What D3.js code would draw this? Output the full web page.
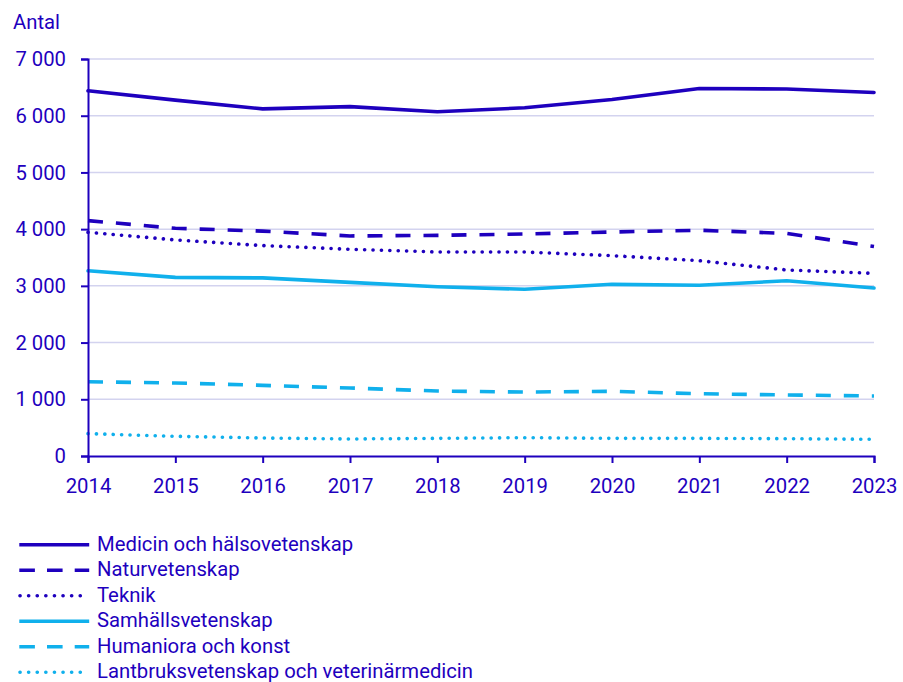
<!DOCTYPE html>
<html><head><meta charset="utf-8">
<script src="https://cdn.jsdelivr.net/npm/d3@7"></script>
<style>body{margin:0;background:#fff}svg{display:block}text{font-family:Roboto,"Noto Sans",sans-serif}</style>
</head><body><svg id="c" width="903" height="682"></svg>
<script>
const years = [2014,2015,2016,2017,2018,2019,2020,2021,2022,2023];
const yTicks = [0,1000,2000,3000,4000,5000,6000,7000];
const seriesNames = ["Medicin och hälsovetenskap","Naturvetenskap","Teknik","Samhällsvetenskap","Humaniora och konst","Lantbruksvetenskap och veterinärmedicin"];
const medicin = [6440,6275,6120,6160,6070,6140,6285,6480,6470,6410];
const naturvet = [4150,4015,3965,3880,3890,3915,3950,3980,3925,3695];
const teknik = [3945,3810,3710,3645,3597,3597,3532,3444,3280,3220];
const samhalls = [3265,3150,3140,3062,2985,2940,3027,3010,3090,2962];
const humaniora = [1310,1287,1246,1199,1146,1128,1140,1098,1076,1058];
const lantbruk = [394,347,317,300,311,323,311,311,305,294];
const values = [medicin,naturvet,teknik,samhalls,humaniora,lantbruk];

const dark = "#1E00BE", light = "#10B0EC";
const colors = [dark,dark,dark,light,light,light];
const dashes = [null,"15,13","0.1,8.3",null,"15,13","0.1,8.3"];
const caps = ["round","butt","round","round","butt","round"];
const FS = 20.3;

const svg = d3.select("#c");
const L=88,R=874,T=59,B=456;
const x = d3.scaleLinear().domain([2014,2023]).range([L,R]);
const y = d3.scaleLinear().domain([0,7000]).range([B,T]);
const fmt = v => d3.format(",")(v).replace(/,/g," ");

// gridlines
svg.append("g").selectAll("line").data(yTicks.filter(d=>d>0)).join("line")
  .attr("x1",L).attr("x2",R).attr("y1",d=>y(d)).attr("y2",d=>y(d))
  .attr("stroke","#d3d3ef").attr("stroke-width",1.5);

// lines
const line = d3.line().x((d,i)=>x(years[i])).y(d=>y(d));
values.forEach((vals,i)=>{
  svg.append("path").datum(vals).attr("d",line).attr("fill","none")
    .attr("stroke",colors[i]).attr("stroke-width",3.6)
    .attr("stroke-dasharray",dashes[i]).attr("stroke-linecap",caps[i])
    .attr("stroke-linejoin","round");
});

// axes
const ya = svg.append("g").attr("transform",`translate(${L},0)`)
  .call(d3.axisLeft(y).tickValues(yTicks).tickFormat(fmt).tickSize(7).tickPadding(15));
const xa = svg.append("g").attr("transform",`translate(0,${B})`)
  .call(d3.axisBottom(x).tickValues(years).tickFormat(d3.format("d")).tickSize(7).tickPadding(16));
[ya,xa].forEach(a=>{
  a.attr("font-size",FS).attr("font-family","Roboto");
  a.select(".domain").attr("stroke",dark).attr("stroke-width",2);
  a.selectAll(".tick line").attr("stroke",dark).attr("stroke-width",2);
  a.selectAll("text").attr("fill",dark).style("font-size",FS+"px");
});
ya.selectAll(".tick text").attr("dy","0.33em");

svg.append("text").attr("x",13).attr("y",29).attr("fill",dark)
  .style("font-size",FS+"px").text("Antal");

// legend
const lg = svg.append("g");
seriesNames.forEach((n,i)=>{
  const cy = 544.8 + i*25.5;
  const kind = i%3;
  lg.append("line")
    .attr("x1", kind===2 ? 20 : 19.3).attr("x2", kind===2 ? 88.2 : 89.2)
    .attr("y1",cy).attr("y2",cy)
    .attr("stroke",colors[i]).attr("stroke-width",3.6)
    .attr("stroke-dasharray", kind===1 ? "15.6,12.1" : kind===2 ? "0.1,8.5" : null)
    .attr("stroke-linecap", kind===2 ? "round" : "butt");
  lg.append("text").attr("x",97).attr("y",cy+6)
    .attr("fill",dark).style("font-size",FS+"px").text(n);
});
</script></body></html>
